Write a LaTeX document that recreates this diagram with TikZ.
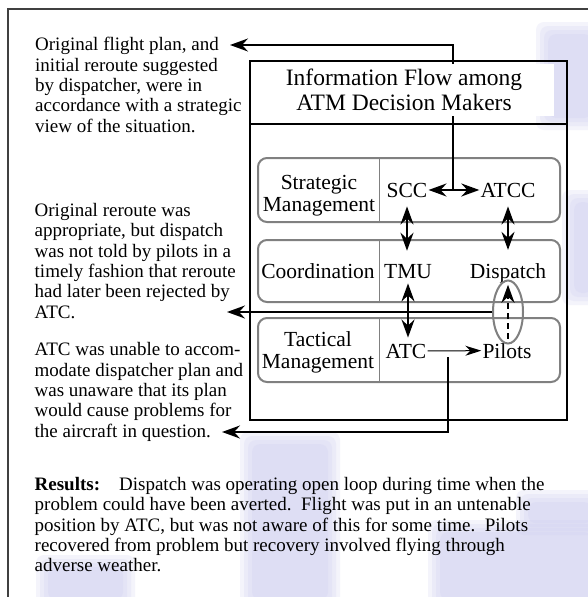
\documentclass[tikz,border=0pt]{standalone}
\usepackage{fontspec}
\setmainfont{Liberation Serif}
\usetikzlibrary{arrows.meta,shapes.geometric}
\definecolor{lav}{RGB}{205,205,240}
\definecolor{boxgray}{RGB}{128,128,128}
\newcommand\softblob[4]{%
  \foreach \k in {0,4,8,12} {\fill[lav, fill opacity=0.22, rounded corners=8pt] ({#1+\k},{#2+\k}) rectangle ({#3-\k},{#4-\k});}}
\begin{document}
\begin{tikzpicture}[x=1pt,y=-1pt,
  >={Stealth[length=18pt,width=13pt,inset=6pt]},
  lefttext/.style={font=\fontsize{19}{20.3}\selectfont, align=left, inner sep=0pt, anchor=base west},
  rowbox/.style={draw=boxgray, line width=2pt, rounded corners=9pt, minimum width=302pt, inner sep=0pt},
  divider/.style={draw=boxgray, line width=1pt},
  rowlabel/.style={font=\fontsize{21.5}{22.5}\selectfont, align=center, inner sep=0pt, anchor=base},
  actor/.style={font=\fontsize{21.5}{22.5}\selectfont, inner sep=1pt, anchor=base},
  flow/.style={line width=2.2pt},
]
\useasboundingbox (0,0) rectangle (588,597);
\clip (0,0) rectangle (588,597);
\fill[white] (0,0) rectangle (588,597);
% faint background watermark
\softblob{536}{22}{604}{130}
\softblob{562}{190}{604}{305}
\softblob{240}{432}{340}{612}
\softblob{36}{555}{135}{612}
\softblob{428}{520}{604}{612}
\softblob{516}{490}{604}{535}

% outer frame
\draw[line width=1.6pt, black!75] (8,620) -- (8,9) -- (620,9);

% inner box
\node[draw, line width=1.1pt, minimum width=317pt, minimum height=359pt, inner sep=0pt] (frame) at (408.5,240.5) {};
\draw[line width=1.1pt] (frame.west |- 0,124) -- (frame.east |- 0,124);

% rows
\node[rowbox, minimum height=64pt] (rs) at (409,190) {};
\node[rowbox, minimum height=62pt] (rc) at (409,271) {};
\node[rowbox, minimum height=64pt] (rt) at (409,350) {};
\draw[divider] ([xshift=122pt]rs.north west) -- ([xshift=122pt]rs.south west);
\draw[divider] ([xshift=122pt]rc.north west) -- ([xshift=122pt]rc.south west);
\draw[divider] ([xshift=122pt]rt.north west) -- ([xshift=122pt]rt.south west);

\node[rowlabel] (ls) at (319,211.5) {Strategic\\Management};
\node[rowlabel] (lc) at (318,278) {Coordination};
\node[rowlabel] (lt) at (318,368.5) {Tactical\\Management};

\node[actor] (scc) at (407,197) {SCC};
\node[actor] (atcc) at (508,197) {ATCC};
\node[actor] (tmu) at (408,278) {TMU};
\node[actor] (disp) at (508,278) {Dispatch};
\node[actor] (atc) at (406,358) {ATC};
\node[actor] (pil) at (507,358) {Pilots};

\node[ellipse, draw=boxgray, line width=2pt, minimum width=30pt, minimum height=63pt, inner sep=0pt] (ell) at (508,312) {};

% left texts
\node[lefttext] (t1) at (35,132) {Original flight plan, and\\initial reroute suggested\\by dispatcher, were in\\accordance with a strategic\\view of the situation.};
\node[lefttext] (t2) at (34.5,318) {Original reroute was\\appropriate, but dispatch\\was not told by pilots in a\\timely fashion that reroute\\had later been rejected by\\ATC.};
\node[lefttext] (t3) at (34.5,437) {ATC was unable to accom-\\modate dispatcher plan and\\was unaware that its plan\\would cause problems for\\the aircraft in question.};
\node[lefttext] (res) at (34.5,571.6) {\textbf{Results:}\hspace{19pt}Dispatch was operating open loop during time when the\\problem could have been averted.\ \ Flight was put in an untenable\\position by ATC, but was not aware of this for some time.\ \ Pilots\\recovered from problem but recovery involved flying through\\adverse weather.};

\coordinate (tip1) at (230,45);
\coordinate (tip2) at (227,312);
\coordinate (tip3) at (222,432);
\coordinate (j1) at (453,190);
\coordinate (j3) at (448,357);

% connectors
\draw[flow,->] (j1) |- (tip1);
\draw[flow,<->] (scc.east) -- (atcc.west);
\draw[flow,<->,shorten <=8pt,shorten >=12pt] (scc.south) -- (scc.south |- tmu.north);
\draw[flow,<->,shorten <=8pt,shorten >=12pt] (atcc.south) -- (atcc.south |- disp.north);
\draw[flow,<->,shorten <=4pt,shorten >=5pt] (tmu.south) -- (tmu.south |- atc.north);
\draw[line width=1pt,-{Stealth[length=16pt,width=10pt,inset=5pt]}] (atc.east) -- (pil.west);
\draw[flow,->,dash pattern=on 6pt off 4pt,shorten <=3pt,shorten >=1pt] (ell.center |- pil.north) -- (ell.center |- disp.south);
\draw[flow,->] (ell.west) -- (tip2);
\draw[flow,->] (j3) |- (tip3);

% title (white box over the connector)
\node[fill=white, inner sep=0pt, minimum width=300pt, minimum height=52pt, font=\fontsize{23.5}{25.3}\selectfont, align=center] (title) at (404,90) {Information Flow among\\ATM Decision Makers};
\end{tikzpicture}
\end{document}
